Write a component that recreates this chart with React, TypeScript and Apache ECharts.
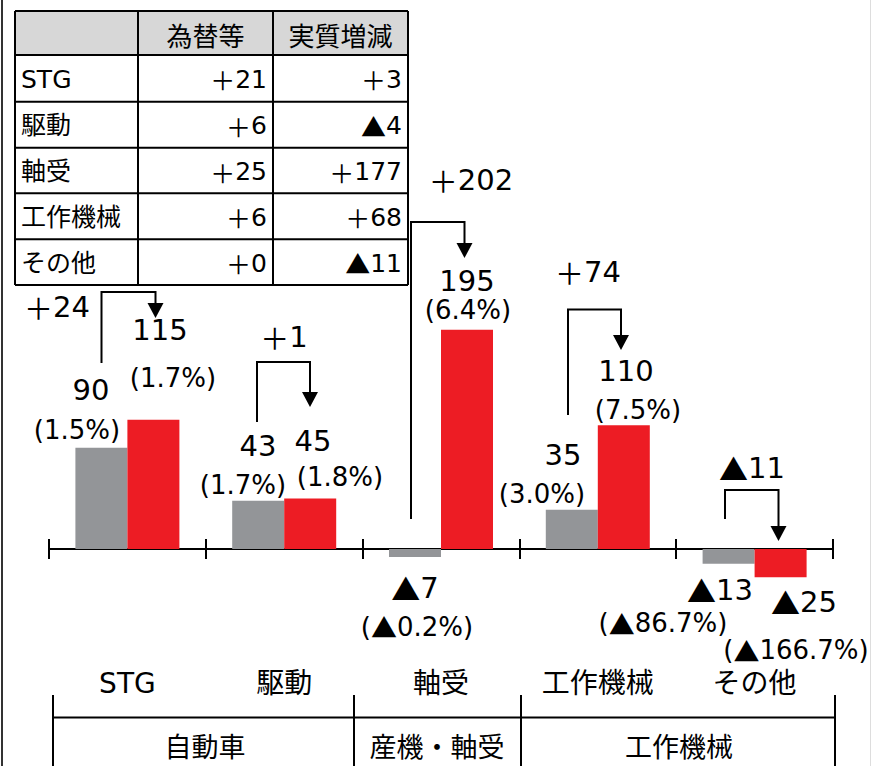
import React, { useEffect, useRef } from "react";
import * as echarts from "echarts";

// ---------------- data ----------------
const categories = ["STG", "駆動", "軸受", "工作機械", "その他"];
const groups = ["自動車", "産機・軸受", "工作機械"];
const prevValues = [90, 43, -7, 35, -13];
const currValues = [115, 45, 195, 110, -25];
const prevRatios = [1.5, 1.7, -0.2, 3.0, -86.7];
const currRatios = [1.7, 1.8, 6.4, 7.5, -166.7];
const changes = [24, 1, 202, 74, -11];
const tableHeaders = ["為替等", "実質増減"];
const fxEffects = [21, 6, 25, 6, 0];
const realChanges = [3, -4, 177, 68, -11];

// ---------------- styles / layout ----------------
const FONT_NUM = "'DejaVu Sans', 'Noto Sans CJK JP', sans-serif";
const FONT_CJK = "'Noto Sans CJK JP', sans-serif";
const GRAY = "#939598";
const RED = "#ED1C24";
const VAL_SIZE = 29;
const PCT_SIZE = 26;

// label offsets relative to bar end: [[value dx, dy], [ratio dx, dy]]
const prevLabelOffsets = [
  [[-36.4, -57.7], [-50.4, -17.7]],
  [[-26.2, -54.6], [-41.2, -15.6]],
  [[-26, 31], [-24, 70]],
  [[-34.8, -54.6], [-55.8, -15.6]],
  [[-34.6, 26.4], [-91.6, 59.4]],
];
const currLabelOffsets = [
  [[32.6, -89.6], [45.6, -41.6]],
  [[28.8, -57.4], [55.8, -21.4]],
  [[26, -49], [27, -19.6]],
  [[28.2, -54.2], [40.2, -15.2]],
  [[49.4, 24.9], [41.4, 72.9]],
];

// arrow annotations (pixel layout): start x, start y, top y, end x, tip y
const arrowLayout = [
  [101.5, 363, 292, 155.5, 318],
  [257, 422, 362, 310, 407],
  [411, 519, 222, 464.5, 258],
  [568, 415, 309.5, 621, 350],
  [725, 519, 490, 778.5, 541],
];
const changeLabelPos = [
  [57, 307],
  [284, 337],
  [471, 180],
  [588, 272],
  [752, 468],
];

const mark = (size: number) => ({
  m: { fontFamily: FONT_CJK, fontSize: size, fill: "#000" },
});
const fmtValue = (v: number) => (v < 0 ? `{m|▲}${-v}` : `${v}`);
const fmtSigned = (v: number) => (v < 0 ? `{m|▲}${-v}` : `{m|＋}${v}`);
const fmtPct = (v: number) =>
  `(${v < 0 ? "{m|▲}" : ""}${Math.abs(v).toFixed(1)}%)`;

function labelSeries(values: number[], ratios: number[], offsets: number[][][]) {
  return {
    type: "custom",
    xAxisIndex: 0,
    yAxisIndex: 0,
    z: 10,
    silent: true,
    data: values.map((v, i) => [i, v]),
    encode: { x: 0, y: 1 },
    renderItem: (params: any, api: any) => {
      const i = params.dataIndex;
      const p = api.coord([api.value(0), api.value(1)]);
      const [vo, po] = offsets[i];
      return {
        type: "group",
        children: [
          {
            type: "text",
            x: p[0] + vo[0],
            y: p[1] + vo[1],
            style: {
              text: fmtValue(values[i]),
              fontSize: VAL_SIZE,
              fontFamily: FONT_NUM,
              fill: "#000",
              align: "center",
              verticalAlign: "middle",
              rich: mark(VAL_SIZE),
            },
          },
          {
            type: "text",
            x: p[0] + po[0],
            y: p[1] + po[1],
            style: {
              text: fmtPct(ratios[i]),
              fontSize: PCT_SIZE,
              fontFamily: FONT_NUM,
              fill: "#000",
              align: "center",
              verticalAlign: "middle",
              rich: mark(PCT_SIZE),
            },
          },
        ],
      };
    },
  };
}

function buildGraphics() {
  const els: any[] = [];
  // page frame
  els.push({ type: "line", shape: { x1: 2, y1: 0, x2: 2, y2: 766 }, style: { stroke: "#333", lineWidth: 2 } });
  els.push({ type: "line", shape: { x1: 870.5, y1: 0, x2: 870.5, y2: 766 }, style: { stroke: "#ddd", lineWidth: 1 } });

  // ---- top table ----
  const xs = [15, 138, 273, 408];
  const ys = [11, 55, 101.7, 147.7, 193.3, 239.3, 285];
  els.push({ type: "rect", shape: { x: xs[0], y: ys[0], width: xs[3] - xs[0], height: ys[1] - ys[0] }, style: { fill: "#d7d7d7" } });
  ys.forEach((y) =>
    els.push({ type: "line", shape: { x1: xs[0], y1: y, x2: xs[3], y2: y }, style: { stroke: "#000", lineWidth: 2 } })
  );
  xs.forEach((x) =>
    els.push({ type: "line", shape: { x1: x, y1: ys[0], x2: x, y2: ys[6] }, style: { stroke: "#000", lineWidth: 2 } })
  );
  tableHeaders.forEach((h, j) =>
    els.push({
      type: "text",
      x: (xs[j + 1] + xs[j + 2]) / 2,
      y: (ys[0] + ys[1]) / 2 + 1,
      style: { text: h, fontSize: 26, fontFamily: FONT_CJK, fill: "#000", align: "center", verticalAlign: "middle" },
    })
  );
  categories.forEach((c, i) => {
    const cy = (ys[i + 1] + ys[i + 2]) / 2 + 1;
    els.push({
      type: "text",
      x: 21,
      y: cy,
      style: { text: c, fontSize: 25, fontFamily: FONT_NUM, fill: "#000", align: "left", verticalAlign: "middle" },
    });
    els.push({
      type: "text",
      x: 267,
      y: cy,
      style: { text: fmtSigned(fxEffects[i]), fontSize: 25, fontFamily: FONT_NUM, fill: "#000", align: "right", verticalAlign: "middle", rich: mark(25) },
    });
    els.push({
      type: "text",
      x: 402,
      y: cy,
      style: { text: fmtSigned(realChanges[i]), fontSize: 25, fontFamily: FONT_NUM, fill: "#000", align: "right", verticalAlign: "middle", rich: mark(25) },
    });
  });

  // ---- arrows & change labels ----
  arrowLayout.forEach(([sx, sy, ty, ex, tipY]) => {
    els.push({
      type: "polyline",
      shape: { points: [[sx, sy], [sx, ty], [ex, ty], [ex, tipY - 14]] },
      style: { stroke: "#000", lineWidth: 2, fill: null },
    });
    els.push({
      type: "polygon",
      shape: { points: [[ex - 8, tipY - 15], [ex + 8, tipY - 15], [ex, tipY]] },
      style: { fill: "#000" },
    });
  });
  changes.forEach((v, i) =>
    els.push({
      type: "text",
      x: changeLabelPos[i][0],
      y: changeLabelPos[i][1],
      style: { text: fmtSigned(v), fontSize: VAL_SIZE, fontFamily: FONT_NUM, fill: "#000", align: "center", verticalAlign: "middle", rich: mark(VAL_SIZE) },
    })
  );

  // ---- bottom group table ----
  const gx = [53, 354, 521, 835];
  els.push({ type: "line", shape: { x1: gx[0], y1: 717.5, x2: gx[3], y2: 717.5 }, style: { stroke: "#000", lineWidth: 2 } });
  gx.forEach((x) =>
    els.push({ type: "line", shape: { x1: x, y1: 695, x2: x, y2: 766 }, style: { stroke: "#000", lineWidth: 2 } })
  );
  const groupCenters = [205, 437, 679];
  groups.forEach((g, j) =>
    els.push({
      type: "text",
      x: groupCenters[j],
      y: 745,
      style: { text: g, fontSize: 27, fontFamily: FONT_CJK, fill: "#000", align: "center", verticalAlign: "middle" },
    })
  );
  return els;
}

export default function App() {
  const ref = useRef<HTMLDivElement>(null);
  useEffect(() => {
    if (!ref.current) return;
    const chart = echarts.init(ref.current, null, { renderer: "svg" });
    chart.setOption({
      animation: false,
      backgroundColor: "#fff",
      grid: { left: 49, right: 38, top: 211.5, height: 450, outerBoundsMode: "none", containLabel: false },
      xAxis: [
        {
          type: "category",
          data: categories,
          position: "bottom",
          axisLine: { onZero: true, lineStyle: { color: "#000", width: 2 } },
          axisTick: { show: true, length: 10, interval: 0, lineStyle: { color: "#000", width: 2 } },
          axisLabel: {
            interval: 0,
            margin: 8,
            fontSize: 28,
            fontFamily: FONT_NUM,
            color: "#000",
          },
          splitLine: { show: false },
        },
        {
          type: "category",
          data: categories,
          position: "bottom",
          axisLine: { show: false, onZero: true, onZeroAxisIndex: 0 },
          axisTick: { show: true, inside: true, length: 10, interval: 0, lineStyle: { color: "#000", width: 2 } },
          axisLabel: { show: false },
          splitLine: { show: false },
        },
      ],
      yAxis: { type: "value", min: -100, max: 300, show: false, splitLine: { show: false } },
      series: [
        {
          type: "bar",
          xAxisIndex: 0,
          data: prevValues,
          barWidth: 52,
          barGap: "0%",
          itemStyle: { color: GRAY },
          silent: true,
        },
        {
          type: "bar",
          xAxisIndex: 0,
          data: currValues,
          barWidth: 52,
          barGap: "0%",
          itemStyle: { color: RED },
          silent: true,
        },
        labelSeries(prevValues, prevRatios, prevLabelOffsets),
        labelSeries(currValues, currRatios, currLabelOffsets),
      ],
      graphic: { elements: buildGraphics() },
    });
    return () => chart.dispose();
  }, []);
  return (
    <div
      ref={ref}
      style={{ position: "absolute", left: 0, top: 0, width: 871, height: 766 }}
    />
  );
}
